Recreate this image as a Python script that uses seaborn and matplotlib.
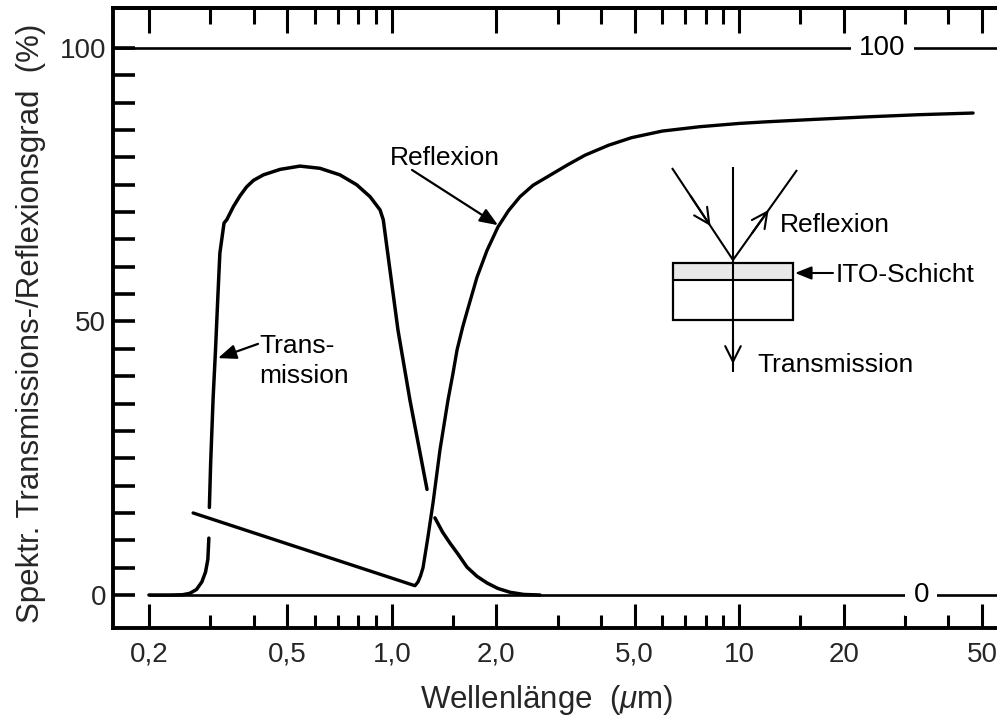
import numpy as np
import pandas as pd
import matplotlib
matplotlib.use("Agg")
import matplotlib.pyplot as plt
import seaborn as sns
from matplotlib.patches import Rectangle
from matplotlib.ticker import NullFormatter

# ---------------- data ----------------
# Transmission curve, split into segments where the printed line is broken
trans_wl = [0.20, 0.23, 0.25, 0.262, 0.274, 0.284, 0.291, 0.2955, 0.2975,
            0.2985, 0.301, 0.306, 0.311, 0.316, 0.320, 0.329, 0.335, 0.350, 0.366,
            0.382, 0.40, 0.427, 0.477, 0.544, 0.621, 0.709, 0.792, 0.866, 0.925,
            0.945, 0.957, 0.969, 1.042, 1.128, 1.263,
            1.331, 1.40, 1.47, 1.55, 1.646, 1.76, 1.88, 2.02, 2.19, 2.4, 2.67]
trans_pct = [0.0, 0.0, 0.05, 0.3, 1.0, 2.4, 4.2, 6.5, 10.4,
             16.0, 24.0, 36.0, 45.0, 55.0, 62.5, 68.0, 68.6, 71.0, 73.0,
             74.6, 75.8, 76.8, 77.8, 78.4, 78.0, 76.8, 75.0, 72.8, 70.4,
             68.6, 66.0, 63.4, 48.4, 35.6, 19.3,
             14.1, 11.5, 9.5, 7.5, 5.1, 3.4, 2.2, 1.2, 0.5, 0.1, 0.0]
trans_seg = [1] * 9 + [2] * 26 + [3] * 11

# Reflection curve
refl_wl = [0.268, 1.166, 1.19, 1.21, 1.23, 1.27, 1.314, 1.376, 1.451, 1.50,
           1.541, 1.60, 1.65, 1.759, 1.88, 2.022, 2.17, 2.339, 2.55, 2.797,
           3.2, 3.6, 4.2, 4.9, 6.0, 7.7, 10.0, 12.0, 16.0, 23.3, 33.0, 47.1]
refl_pct = [15.0, 1.7, 2.4, 3.5, 5.0, 10.5, 16.8, 26.5, 35.6, 40.5,
            44.8, 49.0, 52.0, 58.1, 63.0, 67.3, 70.3, 72.8, 74.9, 76.4,
            78.6, 80.4, 82.2, 83.6, 84.8, 85.6, 86.2, 86.5, 86.9, 87.4, 87.8, 88.1]

# reference levels drawn across the plot
ref_levels = [0, 100]
ref_labels = ["0", "100"]
ref_label_wl = [33.4, 25.8]
zero_line_start = 0.2

# axis ticks
x_major = [0.2, 0.5, 1.0, 2.0, 5.0, 10, 20, 50]
x_major_labels = ["0,2", "0,5", "1,0", "2,0", "5,0", "10", "20", "50"]
x_minor_bottom = [0.3, 0.4, 0.6, 0.7, 0.8, 0.9, 1.5, 3, 4, 6, 7, 8, 9, 15, 30, 40]
x_minor_top = [0.3, 0.4, 0.6, 0.7, 0.8, 0.9, 3, 4, 6, 7, 8, 9, 15, 30, 40]
y_ticks = list(range(0, 101, 5))
y_labelled = [0, 50, 100]

x_limits = (0.1576, 55.2)
y_limits = (-6.03, 107.3)

# ---------------- style ----------------
sns.set_theme(style="white")
plt.rcParams["font.family"] = ["Liberation Sans", "DejaVu Sans"]
plt.rcParams["mathtext.fontset"] = "custom"
plt.rcParams["mathtext.it"] = "Liberation Sans:italic"
plt.rcParams["mathtext.rm"] = "Liberation Sans"
plt.rcParams["text.color"] = "black"

W, H = 997, 717
fig = plt.figure(figsize=(W / 100, H / 100), dpi=100, facecolor="white")
ax_l, ax_r, ax_t, ax_b = 113, 997, 8, 628   # pixel frame of the axes
ax = fig.add_axes([ax_l / W, (H - ax_b) / H, (ax_r - ax_l) / W, (ax_b - ax_t) / H])
ax.set_facecolor("white")
ax.set_xscale("log")
ax.set_xlim(*x_limits)
ax.set_ylim(*y_limits)

fs_tick = 20
fs_ann = 19
fs_label = 22.5

# ---------------- curves ----------------
df_t = pd.DataFrame({"wl": trans_wl, "pct": trans_pct, "seg": trans_seg})
df_r = pd.DataFrame({"wl": refl_wl, "pct": refl_pct, "seg": [1] * len(refl_wl)})
sns.lineplot(data=df_t, x="wl", y="pct", units="seg", estimator=None, sort=False,
             color="black", lw=2.5, ax=ax, legend=False, zorder=3)
sns.lineplot(data=df_r, x="wl", y="pct", units="seg", estimator=None, sort=False,
             color="black", lw=2.4, ax=ax, legend=False, zorder=3)

# reference lines with labels
ax.axhline(ref_levels[1], color="black", lw=1.9, zorder=2)
ax.hlines(ref_levels[0], zero_line_start, x_limits[1], color="black", lw=1.9, zorder=2)
for lvl, lab, wl in zip(ref_levels, ref_labels, ref_label_wl):
    ax.text(wl, lvl, lab, ha="center", va="center", fontsize=fs_tick, zorder=4,
            bbox=dict(boxstyle="square,pad=0.3", fc="white", ec="none"))

# ---------------- axes / ticks ----------------
for side in ["left", "bottom", "top"]:
    ax.spines[side].set_linewidth(2.8)
    ax.spines[side].set_color("black")
ax.spines["right"].set_visible(False)

ax.set_xticks(x_major)
ax.set_xticklabels(x_major_labels)
ax.set_xticks(x_minor_bottom, minor=True)
ax.xaxis.set_minor_formatter(NullFormatter())
ax.tick_params(axis="x", which="major", direction="in", length=17, width=2.2,
               pad=10, labelsize=fs_tick, top=False, bottom=True, color="black")
ax.tick_params(axis="x", which="minor", direction="in", length=9.5, width=2.2,
               top=False, bottom=True, color="black")

sec = ax.secondary_xaxis("top")
sec.set_ticks(x_major)
sec.set_ticks(x_minor_top, minor=True)
sec.xaxis.set_major_formatter(NullFormatter())
sec.xaxis.set_minor_formatter(NullFormatter())
sec.tick_params(axis="x", which="major", direction="in", length=18, width=2.2,
                labeltop=False, color="black")
sec.tick_params(axis="x", which="minor", direction="in", length=11.5, width=2.2,
                labeltop=False, color="black")
sec.spines["top"].set_linewidth(2.8)

ax.set_yticks(y_ticks)
ax.set_yticklabels([str(v) if v in y_labelled else "" for v in y_ticks])
ax.tick_params(axis="y", which="major", direction="in", length=16, width=2.6,
               pad=5, labelsize=fs_tick, left=True, right=False, color="black")
ax.grid(False)

ax.set_xlabel("Wellenlänge  ($\\mu$m)", fontsize=fs_label)
ax.xaxis.set_label_coords((547 - ax_l) / (ax_r - ax_l), (ax_b - 683) / (ax_b - ax_t))
ax.set_ylabel("Spektr. Transmissions-/Reflexionsgrad  (%)", fontsize=fs_label)
ax.yaxis.set_label_coords((46 - ax_l) / (ax_r - ax_l), (ax_b - 323) / (ax_b - ax_t))

# ---------------- annotations on curves ----------------
arrow_filled = dict(arrowstyle="-|>,head_length=0.55,head_width=0.22",
                    mutation_scale=20, lw=1.6, color="black", shrinkA=0, shrinkB=0)
ax.text(0.988, 78.6, "Reflexion", ha="left", va="baseline", fontsize=fs_ann)
ax.annotate("", xy=(2.022, 67.6), xytext=(1.143, 77.7), arrowprops=arrow_filled)

ax.text(0.416, 44.2, "Trans-", ha="left", va="baseline", fontsize=fs_ann)
ax.text(0.414, 38.8, "mission", ha="left", va="baseline", fontsize=fs_ann)
ax.annotate("", xy=(0.316, 43.3), xytext=(0.412, 45.9), arrowprops=arrow_filled)

# ---------------- inset sketch (axes-fraction coordinates) ----------------
def af(px, py):
    return ((px - ax_l) / (ax_r - ax_l), (ax_b - py) / (ax_b - ax_t))

def seg(p1, p2, lw=1.5):
    (x1, y1), (x2, y2) = af(*p1), af(*p2)
    ax.plot([x1, x2], [y1, y2], transform=ax.transAxes, color="black", lw=lw,
            solid_capstyle="butt", zorder=3)

# glass plate with ITO layer
x0, y0 = af(673, 320)
x1, y1 = af(793, 263)
_, ymid = af(673, 280)
ax.add_patch(Rectangle((x0, ymid), x1 - x0, y1 - ymid, transform=ax.transAxes,
                       facecolor="#e9e9e9", edgecolor="none", zorder=2))
ax.add_patch(Rectangle((x0, y0), x1 - x0, y1 - y0, transform=ax.transAxes,
                       fill=False, edgecolor="black", lw=1.6, zorder=3))
seg((673, 280), (793, 280), lw=1.5)

# rays
seg((672, 168), (733, 260))
seg((733, 260), (797, 170))
seg((733, 167), (733, 372))

chevron = dict(arrowstyle="->,head_length=0.7,head_width=0.35", mutation_scale=16,
               lw=1.5, color="black", shrinkA=0, shrinkB=0)
ax.annotate("", xy=af(710.5, 226), xytext=af(690.6, 196), xycoords="axes fraction",
            textcoords="axes fraction", arrowprops=chevron)
ax.annotate("", xy=af(768.6, 210), xytext=af(752.2, 233), xycoords="axes fraction",
            textcoords="axes fraction", arrowprops=chevron)
ax.annotate("", xy=af(733, 364), xytext=af(733, 340), xycoords="axes fraction",
            textcoords="axes fraction", arrowprops=chevron)

ito_arrow = dict(arrowstyle="-|>,head_length=0.55,head_width=0.22",
                 mutation_scale=18, lw=1.5, color="black", shrinkA=0, shrinkB=0)
ax.annotate("", xy=af(795, 273), xytext=af(833, 273), xycoords="axes fraction",
            textcoords="axes fraction", arrowprops=ito_arrow)

tx, ty = af(780, 232)
ax.text(tx, ty, "Reflexion", transform=ax.transAxes, ha="left", va="baseline",
        fontsize=fs_ann)
tx, ty = af(836, 282)
ax.text(tx, ty, "ITO-Schicht", transform=ax.transAxes, ha="left", va="baseline",
        fontsize=fs_ann)
tx, ty = af(757, 372)
ax.text(tx, ty, "Transmission", transform=ax.transAxes, ha="left", va="baseline",
        fontsize=fs_ann)

fig.savefig("out.png", dpi=100, facecolor="white")
